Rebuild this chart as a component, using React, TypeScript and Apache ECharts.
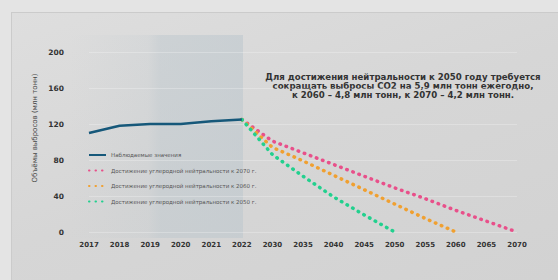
import React, { useEffect, useRef } from "react";
import * as echarts from "echarts";

const years = ["2017", "2018", "2019", "2020", "2021", "2022", "2030", "2035", "2040", "2045", "2050", "2055", "2060", "2065", "2070"];
const observed = [110, 118, 120, 120, 123, 125, null, null, null, null, null, null, null, null, null];
const path2070 = [null, null, null, null, null, 125, 101, 88, 75, 62, 49, 37, 24, 12, 0];
const path2060 = [null, null, null, null, null, 125, 94, 79, 63, 47, 31, 15, 0, null, null];
const path2050 = [null, null, null, null, null, 125, 86, 62, 39, 19, 0, null, null, null, null];
const yTicks = [0, 40, 80, 120, 160, 200];

const names = {
  obs: "Наблюдаемые значения",
  n70: "Достижение углеродной нейтральности к 2070 г.",
  n60: "Достижение углеродной нейтральности к 2060 г.",
  n50: "Достижение углеродной нейтральности к 2050 г.",
};
const note =
  "Для достижения нейтральности к 2050 году требуется\nсокращать выбросы CO2 на 5,9 млн тонн ежегодно,\nк 2060 – 4,8 млн тонн, к 2070 – 4,2 млн тонн.";
const yName = "Объёмы выбросов (млн тонн)";

const FONT = "DejaVu Sans";

export default function App() {
  const ref = useRef<HTMLDivElement>(null);
  useEffect(() => {
    if (!ref.current) return;
    const chart = echarts.init(ref.current, null, { renderer: "svg" });
    const dotted = (color: string) => ({
      type: [0.5, 6] as any,
      width: 3.5,
      cap: "round" as any,
      color,
    });
    chart.setOption({
      animation: false,
      backgroundColor: "transparent",
      grid: { left: 89, right: 41, top: 52, bottom: 48 },
      xAxis: {
        type: "category",
        data: years,
        boundaryGap: false,
        axisLine: { show: false },
        axisTick: { show: false },
        axisLabel: {
          interval: 0,
          margin: 9,
          color: "#333",
          fontSize: 7,
          fontWeight: "bold",
          fontFamily: FONT,
        },
        splitLine: { show: false },
      },
      yAxis: {
        type: "value",
        min: yTicks[0],
        max: yTicks[yTicks.length - 1],
        interval: 40,
        axisLine: { show: false },
        axisTick: { show: false },
        axisLabel: {
          margin: 25,
          color: "#333",
          fontSize: 7.5,
          fontWeight: "bold",
          fontFamily: FONT,
        },
        splitLine: { lineStyle: { color: "rgba(255,255,255,0.25)", width: 1 } },
      },
      legend: {
        orient: "vertical",
        left: 83,
        top: 147,
        itemWidth: 17,
        itemHeight: 6,
        itemGap: 9.5,
        itemStyle: { opacity: 0 },
        textStyle: { fontSize: 5.5, color: "#555", fontFamily: FONT },
        data: [names.obs, names.n70, names.n60, names.n50],
      },
      graphic: [
        {
          type: "text",
          x: 35,
          y: 128,
          rotation: Math.PI / 2,
          style: {
            text: yName,
            fontSize: 7,
            fill: "#444",
            fontFamily: FONT,
            textAlign: "center",
            textVerticalAlign: "middle",
          },
        },
        {
          type: "text",
          x: 403,
          y: 72,
          style: {
            text: note,
            fontSize: 8.6,
            fontWeight: "bold",
            lineHeight: 9,
            fill: "#333",
            fontFamily: FONT,
            textAlign: "center",
            textVerticalAlign: "top",
          },
        },
      ],
      series: [
        {
          name: names.n70,
          type: "line",
          data: path2070,
          symbol: "none",
          lineStyle: dotted("#e8508a"),
          itemStyle: { color: "#e8508a" },
          z: 3,
        },
        {
          name: names.n60,
          type: "line",
          data: path2060,
          symbol: "none",
          lineStyle: dotted("#f0a030"),
          itemStyle: { color: "#f0a030" },
          z: 4,
        },
        {
          name: names.n50,
          type: "line",
          data: path2050,
          symbol: "none",
          lineStyle: dotted("#22d08e"),
          itemStyle: { color: "#22d08e" },
          z: 5,
        },
        {
          name: names.obs,
          type: "line",
          data: observed,
          symbol: "none",
          lineStyle: { color: "#16587a", width: 2.6 },
          itemStyle: { color: "#16587a" },
          z: 6,
        },
      ],
    });
    return () => chart.dispose();
  }, []);

  return (
    <div style={{ position: "fixed", left: 0, top: 0, width: 558, height: 280, background: "#e4e4e4", overflow: "hidden" }}>
      <div
        style={{
          position: "absolute",
          left: 11,
          top: 12,
          width: 600,
          height: 300,
          border: "1px solid #cbcbcb",
          background: "linear-gradient(160deg, #dedede 0%, #d6d6d6 45%, #d1d1d1 100%)",
        }}
      />
      <div
        style={{
          position: "absolute",
          left: 70,
          top: 35,
          width: 173,
          height: 203,
          background:
            "linear-gradient(90deg, rgba(190,200,206,0) 0%, rgba(190,200,206,0.2) 45%, rgba(190,200,206,0.5) 52%, rgba(190,200,206,0.6) 100%)",
        }}
      />
      <div ref={ref} style={{ position: "absolute", left: 0, top: 0, width: 558, height: 280 }} />
    </div>
  );
}
